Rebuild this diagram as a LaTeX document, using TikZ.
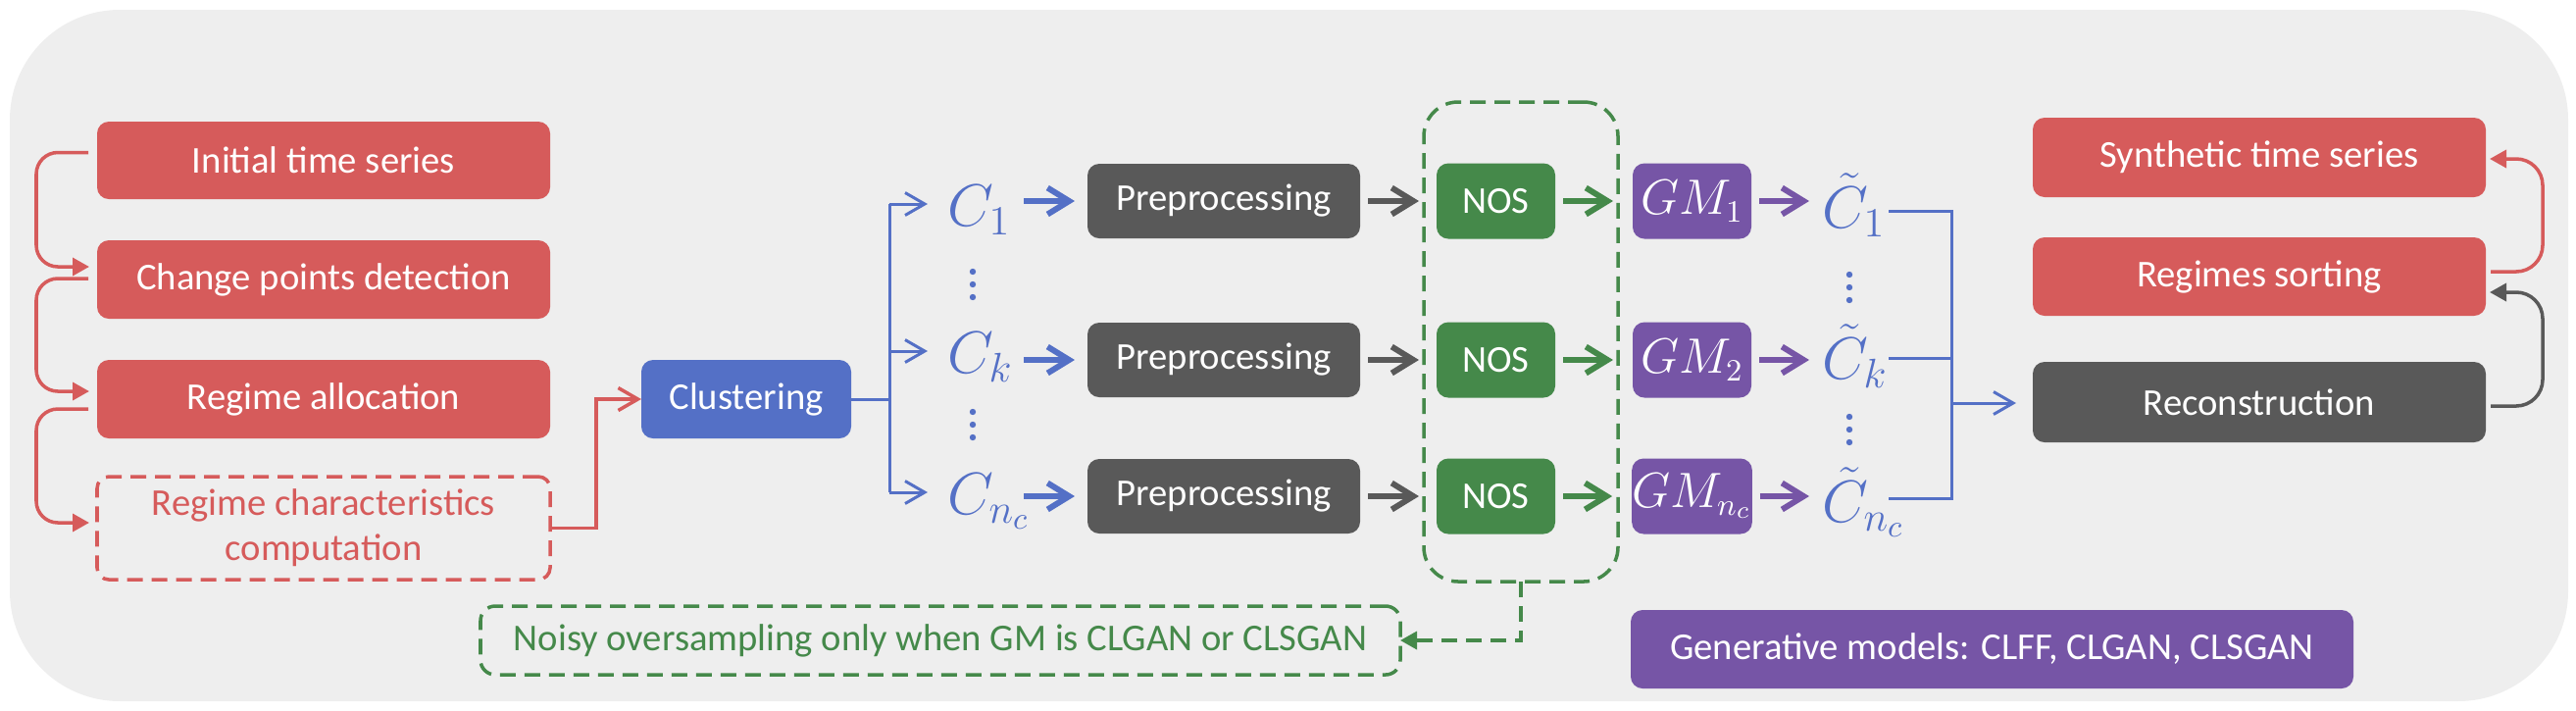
\documentclass[tikz,border=0pt]{standalone}
\usepackage{fontspec}
\setmainfont{Carlito}
\usetikzlibrary{arrows.meta,calc}
\definecolor{cred}{HTML}{D65B5B}
\definecolor{cblue}{HTML}{5470C6}
\definecolor{cgreen}{HTML}{45894A}
\definecolor{cpurple}{HTML}{7655A6}
\definecolor{cgrey}{HTML}{595959}
\definecolor{cbg}{HTML}{EEEEEE}
\tikzset{
  box/.style={rounded corners=0.12cm, inner sep=0pt, outer sep=0pt, text=white, align=center, font=\fontsize{11}{13}\selectfont},
  redbox/.style={box, fill=cred, minimum width=4.62cm, minimum height=0.80cm},
  greybox/.style={box, fill=cgrey},
  dashpat/.style={dash pattern=on 0.16cm off 0.09cm},
  clab/.style={text=cblue, inner sep=0pt, outer sep=0pt, font=\fontsize{18.5}{20}\selectfont},
  dotfill/.style={fill=cblue},
  gmlab/.style={box, fill=cpurple, minimum width=1.21cm, minimum height=0.77cm, font=\fontsize{13.3}{15}\selectfont},
  redcon/.style={draw=cred, line width=1pt, rounded corners=0.22cm, -{Triangle[length=0.17cm,width=0.18cm]}},
  greycon/.style={draw=cgrey, line width=1pt, rounded corners=0.27cm, -{Triangle[length=0.17cm,width=0.18cm]}},
  bline/.style={draw=cblue, line width=0.85pt},
  thinchev/.style={-{Straight Barb[length=0.2cm,width=0.23cm]}},
  thickarr/.style={line width=1.7pt, -{Straight Barb[length=0.22cm,width=0.27cm]}, shorten <=0.08cm}
}
\begin{document}
\begin{tikzpicture}[x=1cm,y=-1cm]
\useasboundingbox (0,0) rectangle (26.27,7.24);
\fill[cbg, rounded corners=1.12cm] (0.10,0.10) rectangle (26.19,7.15);

% left column
\node[redbox, minimum height=0.79cm] (init) at (3.30,1.635) {Initial time series};
\node[redbox] (cpd) at (3.30,2.85) {Change points detection};
\node[redbox] (ralloc) at (3.30,4.07) {Regime allocation};
\node[box, draw=cred, line width=1pt, dashpat, text=cred, minimum width=4.62cm, minimum height=1.05cm] (rchar) at (3.30,5.385) {Regime characteristics\\computation};

\draw[redcon] ([xshift=-0.09cm,yshift=0.08cm]init.west) -- ++(-0.53,0) |- ([xshift=-0.08cm,yshift=0.13cm]cpd.west);
\draw[redcon] ([xshift=-0.09cm,yshift=0.01cm]cpd.west) -- ++(-0.53,0) |- ([xshift=-0.08cm,yshift=0.08cm]ralloc.west);
\draw[redcon] ([xshift=-0.09cm,yshift=-0.10cm]ralloc.west) -- ++(-0.53,0) |- ([xshift=-0.08cm,yshift=0.055cm]rchar.west);

% clustering
\node[box, fill=cblue, minimum width=2.14cm, minimum height=0.80cm] (clust) at (7.61,4.07) {Clustering};
\draw[draw=cred, line width=1pt, thinchev] (rchar.east) -- ++(0.47,0) |- (clust.west);

% cluster labels
\node[clab, anchor=base west] (c1) at (9.66,2.30) {$C_1$};
\node[clab, anchor=base west] (ck) at (9.66,3.80) {$C_k$};
\node[clab, anchor=base west] (cn) at (9.66,5.24) {$C_{n_c}$};
\fill[dotfill] (9.92,2.77) circle (0.032) (9.92,2.90) circle (0.032) (9.92,3.03) circle (0.032);
\fill[dotfill] (9.92,4.20) circle (0.032) (9.92,4.33) circle (0.032) (9.92,4.46) circle (0.032);

\coordinate (tj) at (9.07,4.07);
\coordinate (t1) at (9.07,2.08);
\coordinate (t2) at (9.07,3.58);
\coordinate (t3) at (9.07,5.02);
\draw[bline] (clust.east) -- (tj);
\draw[bline] (t1) -- (t3);
\draw[bline, thinchev, shorten >=0.2cm] (t1) -- (t1 -| c1.west);
\draw[bline, thinchev, shorten >=0.2cm] (t2) -- (t2 -| ck.west);
\draw[bline, thinchev, shorten >=0.2cm] (t3) -- (t3 -| cn.west);

% preprocessing
\node[greybox, minimum width=2.78cm, minimum height=0.76cm] (p1) at (12.48,2.05) {Preprocessing};
\node[greybox, minimum width=2.78cm, minimum height=0.76cm] (p2) at (12.48,3.67) {Preprocessing};
\node[greybox, minimum width=2.78cm, minimum height=0.76cm] (p3) at (12.48,5.06) {Preprocessing};
\draw[draw=cblue, thickarr, shorten <=0pt, shorten >=0.13cm] ([xshift=-0.65cm]p1.west) -- (p1.west);
\draw[draw=cblue, thickarr, shorten <=0pt, shorten >=0.13cm] ([xshift=-0.65cm]p2.west) -- (p2.west);
\draw[draw=cblue, thickarr, shorten <=0pt, shorten >=0.13cm] ([xshift=-0.65cm]p3.west) -- (p3.west);

% NOS
\node[draw=cgreen, line width=1pt, dashpat, rounded corners=0.35cm, minimum width=1.98cm, minimum height=4.89cm, inner sep=0pt, outer sep=0pt] (nosg) at (15.51,3.485) {};
\node[box, fill=cgreen, minimum width=1.21cm, minimum height=0.77cm] (n1) at (15.255,2.05) {NOS};
\node[box, fill=cgreen, minimum width=1.21cm, minimum height=0.77cm] (n2) at (15.255,3.67) {NOS};
\node[box, fill=cgreen, minimum width=1.21cm, minimum height=0.77cm] (n3) at (15.255,5.06) {NOS};
\draw[draw=cgrey, thickarr, shorten >=0.18cm] (p1.east) -- (n1.west);
\draw[draw=cgrey, thickarr, shorten >=0.18cm] (p2.east) -- (n2.west);
\draw[draw=cgrey, thickarr, shorten >=0.18cm] (p3.east) -- (n3.west);

% GM
\node[gmlab] (g1) at (17.255,2.05) {$GM_1$};
\node[gmlab] (g2) at (17.255,3.67) {$GM_2$};
\node[gmlab] (g3) at (17.255,5.06) {$GM_{n_c}$};
\draw[draw=cgreen, thickarr, shorten >=0.20cm] (n1.east) -- (g1.west);
\draw[draw=cgreen, thickarr, shorten >=0.20cm] (n2.east) -- (g2.west);
\draw[draw=cgreen, thickarr, shorten >=0.20cm] (n3.east) -- (g3.west);

% tilde labels
\node[clab, anchor=base west] (ct1) at (18.58,2.32) {$\tilde{C}_1$};
\node[clab, anchor=base west] (ctk) at (18.58,3.86) {$\tilde{C}_k$};
\node[clab, anchor=base west] (ctn) at (18.58,5.32) {$\tilde{C}_{n_c}$};
\fill[dotfill] (18.86,2.80) circle (0.032) (18.86,2.93) circle (0.032) (18.86,3.06) circle (0.032);
\fill[dotfill] (18.86,4.25) circle (0.032) (18.86,4.38) circle (0.032) (18.86,4.51) circle (0.032);
\draw[draw=cpurple, thickarr, shorten >=0.0cm] (g1.east) -- ([xshift=-0.13cm]g1.east -| ct1.west);
\draw[draw=cpurple, thickarr, shorten >=0.0cm] (g2.east) -- ([xshift=-0.13cm]g2.east -| ctk.west);
\draw[draw=cpurple, thickarr, shorten >=0.0cm] (g3.east) -- ([xshift=-0.13cm]g3.east -| ctn.west);

% right boxes
\node[redbox, minimum height=0.81cm] (synth) at (23.04,1.605) {Synthetic time series};
\node[redbox] (rsort) at (23.04,2.82) {Regimes sorting};
\node[greybox, minimum width=4.62cm, minimum height=0.82cm] (recon) at (23.04,4.10) {Reconstruction};

% merge
\coordinate (m1) at (19.26,2.15);
\coordinate (m2) at (19.26,3.65);
\coordinate (m3) at (19.26,5.08);
\coordinate (v1) at (19.90,2.15);
\coordinate (v3) at (19.90,5.08);
\coordinate (mj) at (19.90,4.11);
\draw[bline] (m1) -- (v1) -- (v3) -- (m3);
\draw[bline] (m2) -- (m2 -| v1);
\draw[bline, thinchev, shorten >=0.17cm] (mj) -- (mj -| recon.west);

\draw[redcon, rounded corners=0.27cm] ([xshift=0.05cm,yshift=0.05cm]rsort.east) -- ++(0.53,0) |- ([xshift=0.04cm,yshift=-0.015cm]synth.east);
\draw[greycon] ([xshift=0.05cm,yshift=-0.04cm]recon.east) -- ++(0.53,0) |- ([xshift=0.04cm,yshift=-0.16cm]rsort.east);

% bottom
\node[box, draw=cgreen, line width=1pt, dashpat, text=cgreen, rounded corners=0.15cm, minimum width=9.38cm, minimum height=0.70cm] (noisy) at (9.59,6.53) {Noisy oversampling only when GM is CLGAN or CLSGAN};
\draw[draw=cgreen, line width=1pt, dashpat, -{Triangle[length=0.17cm,width=0.18cm]}] (nosg.south) |- (noisy.east);
\node[box, fill=cpurple, minimum width=7.37cm, minimum height=0.80cm] (gen) at (20.315,6.62) {Generative models: CLFF, CLGAN, CLSGAN};
\end{tikzpicture}
\end{document}
